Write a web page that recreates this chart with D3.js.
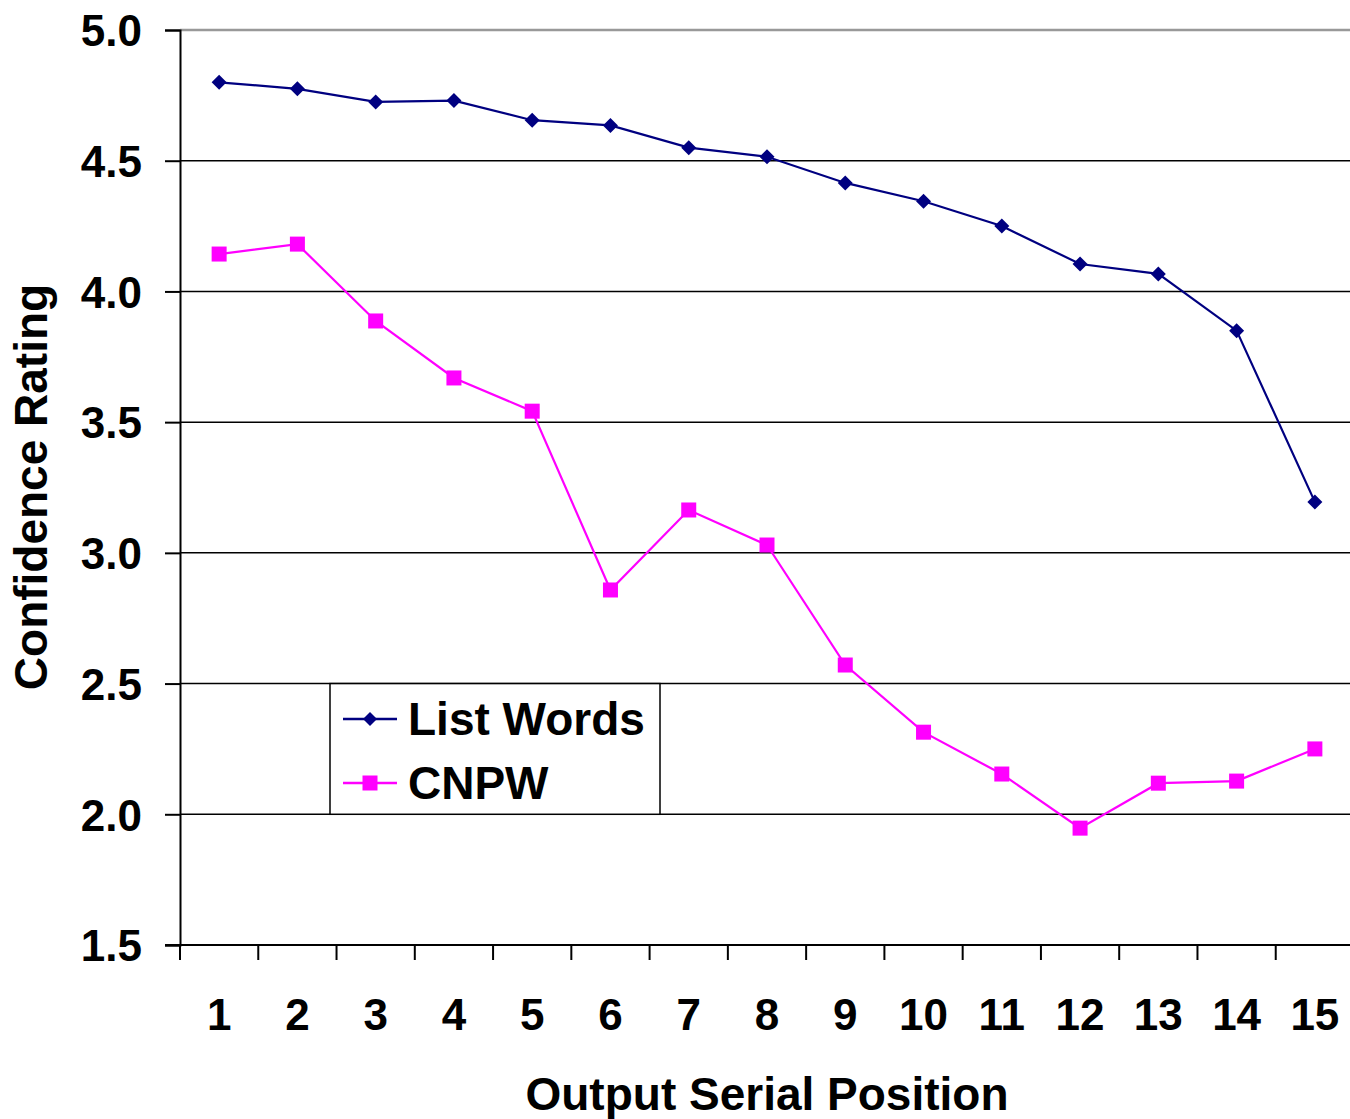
<!DOCTYPE html>
<html>
<head>
<meta charset="utf-8">
<script src="https://cdn.jsdelivr.net/npm/d3@7"></script>
<style>
  body { margin: 0; background: #fff; }
  svg text { font-family: "Liberation Sans", Arial, sans-serif; font-weight: bold; fill: #000; }
</style>
</head>
<body>
<div id="chart"></div>
<script>
var positions = [1, 2, 3, 4, 5, 6, 7, 8, 9, 10, 11, 12, 13, 14, 15];
var listWords = [4.80, 4.775, 4.725, 4.73, 4.655, 4.635, 4.55, 4.515, 4.415, 4.345, 4.25, 4.105, 4.067, 3.85, 3.195];
var cnpw = [4.143, 4.181, 3.887, 3.669, 3.542, 2.858, 3.164, 3.03, 2.571, 2.314, 2.154, 1.947, 2.119, 2.127, 2.25];
var yTicks = [1.5, 2.0, 2.5, 3.0, 3.5, 4.0, 4.5, 5.0];

var width = 1350, height = 1119;
var mLeft = 180, mRight = 1354, mTop = 30, mBottom = 945;

var svg = d3.select('#chart').append('svg')
  .attr('width', width)
  .attr('height', height);

var x = d3.scaleBand().domain(positions).range([mLeft, mRight]);
var y = d3.scaleLinear().domain([1.5, 5.0]).range([mBottom, mTop]);

// gridlines
svg.append('g').selectAll('line.grid')
  .data(yTicks.filter(d => d > 1.5))
  .enter().append('line')
  .attr('class', 'grid')
  .attr('x1', mLeft).attr('x2', width)
  .attr('y1', d => y(d)).attr('y2', d => y(d))
  .attr('stroke', d => d === 5.0 ? '#999' : '#000')
  .attr('stroke-width', d => d === 5.0 ? 2.5 : 1.5);

// y axis
var yAxis = svg.append('g')
  .attr('transform', 'translate(' + mLeft + ',0)')
  .call(d3.axisLeft(y).tickValues(yTicks).tickFormat(d3.format('.1f')).tickSize(15).tickPadding(23));
yAxis.select('.domain').attr('stroke', '#000').attr('stroke-width', 2);
yAxis.selectAll('.tick line').attr('stroke', '#000').attr('stroke-width', 2);
yAxis.selectAll('.tick text').style('font-size', '44px').attr('dy', '0.36em');

// x axis
var xAxis = svg.append('g')
  .attr('transform', 'translate(0,' + mBottom + ')')
  .call(d3.axisBottom(x).tickSize(0).tickPadding(54));
xAxis.select('.domain').remove();
xAxis.append('line')
  .attr('x1', 165).attr('x2', width).attr('y1', 0).attr('y2', 0)
  .attr('stroke', '#000').attr('stroke-width', 2);
xAxis.selectAll('line.xt')
  .data(d3.range(positions.length + 1))
  .enter().append('line')
  .attr('class', 'xt')
  .attr('x1', i => mLeft + i * x.step()).attr('x2', i => mLeft + i * x.step())
  .attr('y1', 0).attr('y2', 15)
  .attr('stroke', '#000').attr('stroke-width', 2);
xAxis.selectAll('.tick text').style('font-size', '44px').attr('dy', '0.71em');

// axis titles
svg.append('text')
  .attr('x', 767).attr('y', 1110)
  .attr('text-anchor', 'middle')
  .style('font-size', '46px')
  .text('Output Serial Position');

svg.append('text')
  .attr('transform', 'translate(47,487) rotate(-90)')
  .attr('text-anchor', 'middle')
  .style('font-size', '46px')
  .text('Confidence Rating');

var line = d3.line()
  .x((d, i) => x(positions[i]) + x.bandwidth() / 2)
  .y(d => y(d));

function diamond(sel, s) {
  sel.attr('d', 'M0,' + (-s) + 'L' + s + ',0L0,' + s + 'L' + (-s) + ',0Z');
}

// legend
var legend = svg.append('g');
legend.append('rect')
  .attr('x', 330).attr('y', y(2.5)).attr('width', 330).attr('height', y(2.0) - y(2.5))
  .attr('fill', '#fff').attr('stroke', '#000').attr('stroke-width', 1.5);
legend.append('line').attr('x1', 343).attr('x2', 397).attr('y1', 719).attr('y2', 719)
  .attr('stroke', '#000080').attr('stroke-width', 2.5);
legend.append('path').attr('transform', 'translate(370,719)').call(diamond, 7).attr('fill', '#000080');
legend.append('text').attr('x', 408).attr('y', 735).style('font-size', '46px').text('List Words');
legend.append('line').attr('x1', 343).attr('x2', 397).attr('y1', 783).attr('y2', 783)
  .attr('stroke', '#ff00ff').attr('stroke-width', 2.5);
legend.append('rect').attr('x', 362.5).attr('y', 775.5).attr('width', 15).attr('height', 15).attr('fill', '#ff00ff');
legend.append('text').attr('x', 408).attr('y', 799).style('font-size', '46px').text('CNPW');

// series
svg.append('path').datum(listWords)
  .attr('d', line).attr('fill', 'none').attr('stroke', '#000080').attr('stroke-width', 2.2);
svg.selectAll('path.lw')
  .data(listWords)
  .enter().append('path')
  .attr('class', 'lw')
  .attr('transform', (d, i) => 'translate(' + (x(positions[i]) + x.bandwidth() / 2) + ',' + y(d) + ')')
  .call(diamond, 7.5)
  .attr('fill', '#000080');

svg.append('path').datum(cnpw)
  .attr('d', line).attr('fill', 'none').attr('stroke', '#ff00ff').attr('stroke-width', 2.2);
svg.selectAll('rect.cn')
  .data(cnpw)
  .enter().append('rect')
  .attr('class', 'cn')
  .attr('x', (d, i) => x(positions[i]) + x.bandwidth() / 2 - 7.5)
  .attr('y', d => y(d) - 7.5)
  .attr('width', 15).attr('height', 15)
  .attr('fill', '#ff00ff');
</script>
</body>
</html>
